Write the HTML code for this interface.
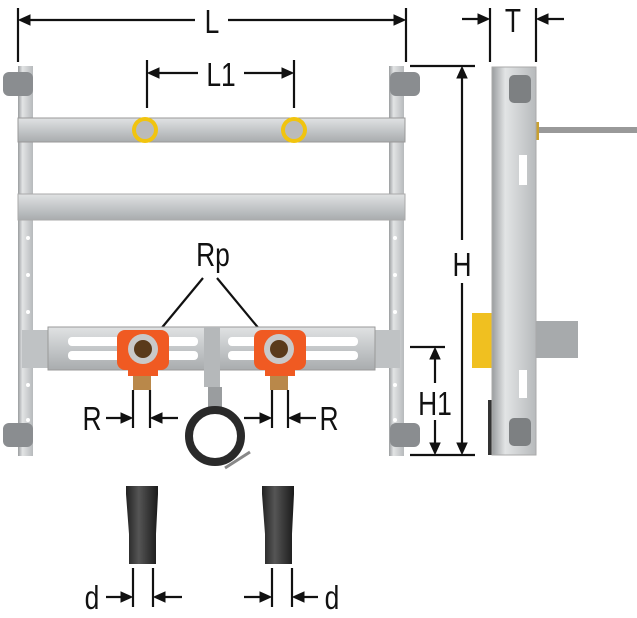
<!DOCTYPE html>
<html><head><meta charset="utf-8"><style>
html,body{margin:0;padding:0;background:#fff;}
svg{display:block}
text{font-family:"Liberation Sans",sans-serif;fill:#111;}
</style></head><body>
<svg width="637" height="618" viewBox="0 0 637 618" xmlns="http://www.w3.org/2000/svg">
<defs>
<linearGradient id="post" x1="0" x2="1"><stop offset="0" stop-color="#9a9d9f"/><stop offset=".3" stop-color="#e2e4e5"/><stop offset="1" stop-color="#b7babc"/></linearGradient>
<linearGradient id="rail" x1="0" y1="0" x2="0" y2="1"><stop offset="0" stop-color="#e0e2e3"/><stop offset=".5" stop-color="#c4c7c9"/><stop offset="1" stop-color="#a9acae"/></linearGradient>
<linearGradient id="plug" x1="0" x2="1"><stop offset="0" stop-color="#222"/><stop offset=".4" stop-color="#555"/><stop offset="1" stop-color="#1a1a1a"/></linearGradient>
</defs>
<g stroke="#111" stroke-width="2.2" fill="none">
<line x1="18" y1="8" x2="18" y2="62"/><line x1="406" y1="8" x2="406" y2="62"/>
<line x1="195" y1="20" x2="24" y2="20"/>
<line x1="228" y1="20" x2="400" y2="20"/>
<line x1="147" y1="60" x2="147" y2="108"/><line x1="294" y1="60" x2="294" y2="108"/>
<line x1="198" y1="73" x2="153" y2="73"/>
<line x1="244" y1="73" x2="288" y2="73"/>
<line x1="490" y1="8" x2="490" y2="62"/><line x1="536" y1="8" x2="536" y2="62"/>
<line x1="462" y1="19" x2="484" y2="19"/>
<line x1="564" y1="19" x2="542" y2="19"/>
<line x1="410" y1="66" x2="475" y2="66"/><line x1="410" y1="455" x2="475" y2="455"/>
<line x1="462" y1="240" x2="462" y2="72"/>
<line x1="462" y1="283" x2="462" y2="449"/>
<line x1="410" y1="347" x2="445" y2="347"/>
<line x1="435" y1="383" x2="435" y2="353"/>
<line x1="435" y1="420" x2="435" y2="449"/>
<line x1="203" y1="278" x2="155" y2="336"/><line x1="217" y1="278" x2="265" y2="336"/>
</g>
<rect x="18" y="66" width="15" height="390" fill="url(#post)"/>
<rect x="389" y="66" width="15" height="390" fill="url(#post)"/>
<g fill="#fff"><circle cx="28" cy="238" r="2"/><circle cx="28" cy="275" r="2"/><circle cx="28" cy="312" r="2"/><circle cx="28" cy="385" r="2"/><circle cx="28" cy="420" r="2"/>
<circle cx="395" cy="238" r="2"/><circle cx="395" cy="275" r="2"/><circle cx="395" cy="312" r="2"/><circle cx="395" cy="385" r="2"/><circle cx="395" cy="420" r="2"/></g>
<rect x="18" y="118" width="387" height="24" fill="url(#rail)" stroke="#999" stroke-width="1"/>
<rect x="18" y="194" width="387" height="26" fill="url(#rail)" stroke="#aaa" stroke-width="1"/>
<g fill="#8a8d90"><rect x="3" y="72" width="30" height="24" rx="6"/><rect x="390" y="72" width="30" height="24" rx="6"/><rect x="3" y="423" width="30" height="24" rx="6"/><rect x="390" y="423" width="30" height="24" rx="6"/></g>
<g><circle cx="145" cy="130" r="13" fill="#f1c40f"/><circle cx="145" cy="130" r="9" fill="#bbb"/>
<circle cx="294" cy="130" r="13" fill="#f1c40f"/><circle cx="294" cy="130" r="9" fill="#bbb"/></g>
<rect x="22" y="330" width="378" height="38" fill="#bfc2c4"/>
<rect x="48" y="327" width="327" height="43" fill="url(#rail)" stroke="#999" stroke-width="1"/>
<g fill="#fff"><rect x="68" y="337" width="130" height="9" rx="4"/><rect x="68" y="351" width="130" height="9" rx="4"/>
<rect x="228" y="337" width="130" height="9" rx="4"/><rect x="228" y="351" width="130" height="9" rx="4"/></g>
<rect x="204" y="327" width="16" height="60" fill="#b5b8ba"/>
<rect x="208" y="387" width="14" height="20" fill="#9a9d9f"/>
<g><rect x="117" y="330" width="52" height="40" rx="8" fill="#f05a22"/><rect x="128" y="366" width="30" height="10" fill="#f05a22"/>
<circle cx="143" cy="349" r="15" fill="#c9c9c9"/><circle cx="143" cy="349" r="9" fill="#5a3a1a"/>
<rect x="133" y="376" width="18" height="14" fill="#b9884a"/>
<rect x="254" y="330" width="52" height="40" rx="8" fill="#f05a22"/><rect x="265" y="366" width="30" height="10" fill="#f05a22"/>
<circle cx="279" cy="349" r="15" fill="#c9c9c9"/><circle cx="279" cy="349" r="9" fill="#5a3a1a"/>
<rect x="270" y="376" width="18" height="14" fill="#b9884a"/></g>
<circle cx="215" cy="436" r="26" fill="none" stroke="#2a2a2a" stroke-width="8"/>
<line x1="225" y1="468" x2="250" y2="452" stroke="#888" stroke-width="3"/>
<path d="M126,486h32v8l-2,40v30h-27v-30l-3,-40z" fill="url(#plug)"/>
<path d="M262,486h32v8l-2,40v30h-27v-30l-3,-40z" fill="url(#plug)"/>
<g stroke="#111" stroke-width="2.2" fill="none">
<line x1="133" y1="390" x2="133" y2="428"/><line x1="150" y1="390" x2="150" y2="428"/>
<line x1="106" y1="418" x2="126" y2="418"/><line x1="178" y1="418" x2="156" y2="418"/>
<line x1="272" y1="390" x2="272" y2="428"/><line x1="288" y1="390" x2="288" y2="428"/>
<line x1="244" y1="418" x2="265" y2="418"/><line x1="316" y1="418" x2="294" y2="418"/>
<line x1="133" y1="568" x2="133" y2="607"/><line x1="153" y1="568" x2="153" y2="607"/>
<line x1="106" y1="597" x2="126" y2="597"/><line x1="182" y1="597" x2="159" y2="597"/>
<line x1="272" y1="568" x2="272" y2="607"/><line x1="292" y1="568" x2="292" y2="607"/>
<line x1="244" y1="597" x2="265" y2="597"/><line x1="318" y1="597" x2="298" y2="597"/>
</g>
<path fill="#111" stroke="#111" stroke-width="1" d="M19,20L30,15L30,25Z M405,20L394,15L394,25Z M148,73L159,68L159,78Z M293,73L282,68L282,78Z M489,19L478,14L478,24Z M537,19L548,14L548,24Z M462,67L457,78L467,78Z M462,454L457,443L467,443Z M435,348L430,359L440,359Z M435,454L430,443L440,443Z M132,418L121,413L121,423Z M151,418L162,413L162,423Z M271,418L260,413L260,423Z M289,418L300,413L300,423Z M132,597L121,592L121,602Z M154,597L165,592L165,602Z M271,597L260,592L260,602Z M293,597L304,592L304,602Z"/>
<rect x="536" y="127" width="101" height="6" fill="#999"/>
<rect x="533" y="122" width="6" height="18" fill="#c8a030"/>
<rect x="536" y="321" width="42" height="37" fill="#a7aaac"/>
<rect x="472" y="313" width="20" height="55" fill="#f0c020"/>
<rect x="488" y="400" width="6" height="55" fill="#333"/>
<rect x="492" y="67" width="44" height="388" fill="url(#post)" stroke="#aaa" stroke-width="1"/>
<g fill="#fff"><rect x="519" y="155" width="8" height="30"/><rect x="519" y="370" width="8" height="28"/></g>
<g fill="#7d8082"><rect x="509" y="75" width="22" height="28" rx="5"/><rect x="509" y="418" width="22" height="28" rx="5"/></g>
<g font-size="33" text-anchor="middle">
<text x="212" y="33" transform="translate(212,0) scale(.8,1) translate(-212,0)">L</text>
<text x="221" y="86" transform="translate(221,0) scale(.8,1) translate(-221,0)">L1</text>
<text x="513" y="32" transform="translate(513,0) scale(.8,1) translate(-513,0)">T</text>
<text x="462" y="276" transform="translate(462,0) scale(.8,1) translate(-462,0)">H</text>
<text x="435" y="415" transform="translate(435,0) scale(.8,1) translate(-435,0)">H1</text>
<text x="213" y="266" transform="translate(213,0) scale(.8,1) translate(-213,0)">Rp</text>
<text x="92" y="430" transform="translate(92,0) scale(.8,1) translate(-92,0)">R</text>
<text x="329" y="430" transform="translate(329,0) scale(.8,1) translate(-329,0)">R</text>
<text x="92" y="609" transform="translate(92,0) scale(.8,1) translate(-92,0)">d</text>
<text x="332" y="609" transform="translate(332,0) scale(.8,1) translate(-332,0)">d</text>
</g>
</svg>
</body></html>
